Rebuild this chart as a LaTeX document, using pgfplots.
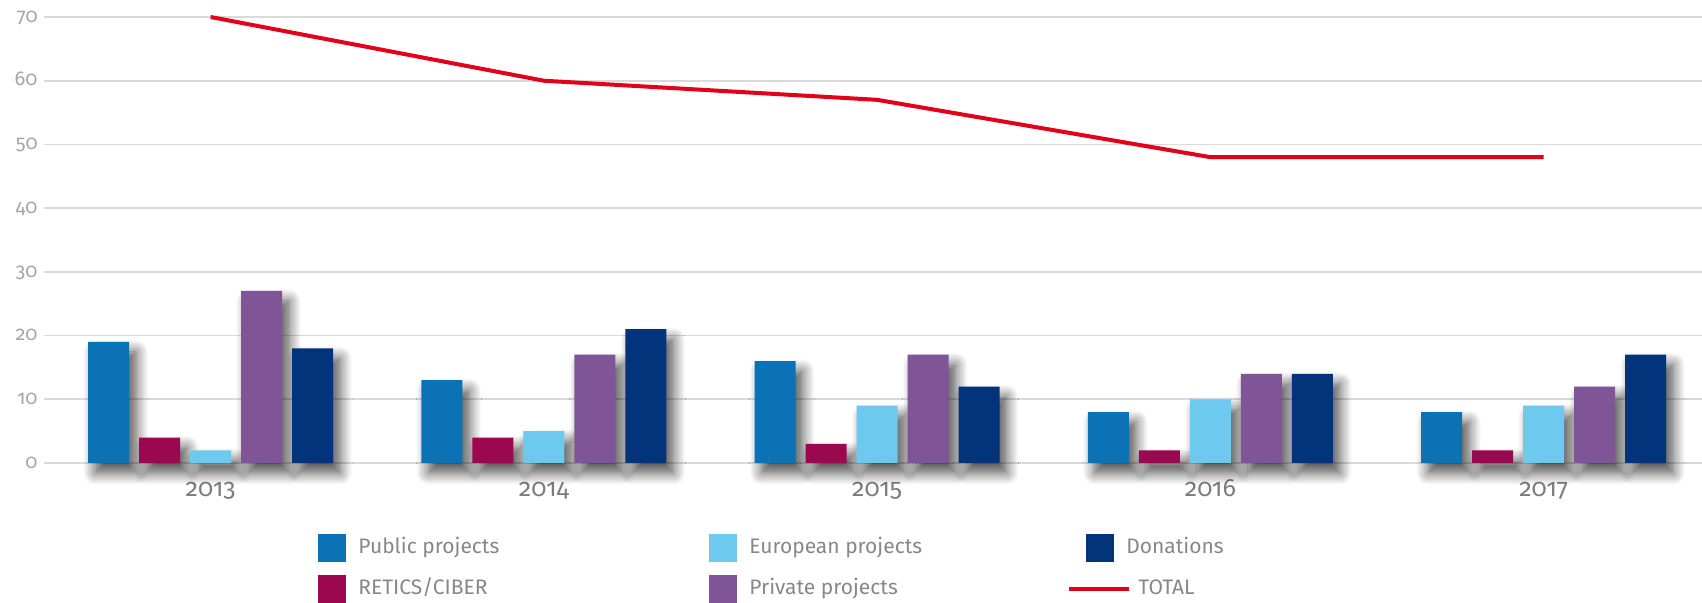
\documentclass[border=0pt]{standalone}
\usepackage{fontspec}
\setmainfont{Fira Sans}[Numbers=OldStyle]
\usepackage{pgfplots}
\pgfplotsset{compat=1.18}
\usetikzlibrary{shadows.blur}
\definecolor{cPub}{RGB}{11,114,181}
\definecolor{cRet}{RGB}{155,8,80}
\definecolor{cEur}{RGB}{110,201,238}
\definecolor{cPri}{RGB}{127,85,151}
\definecolor{cDon}{RGB}{3,51,122}
\definecolor{cTot}{RGB}{226,0,26}
\definecolor{cGrid}{RGB}{218,218,218}
\definecolor{cTick}{RGB}{166,166,166}
\definecolor{cYear}{RGB}{125,125,125}
\definecolor{cLeg}{RGB}{135,135,135}
\makeatletter
\tikzset{nopre/.code={\let\tikz@preactions\pgfutil@empty}}
\makeatother
\pgfplotsset{
  barshadow/.style={blur shadow={shadow xshift=3.5pt, shadow yshift=-5pt, shadow blur radius=6pt, shadow blur steps=10, shadow opacity=70}},
  sq/.style={legend image code/.code={\fill[nopre, #1] (0pt,-7pt) rectangle (14pt,7pt);}}
}
\begin{document}
\begin{tikzpicture}
\begin{axis}[
  scale only axis, width=829pt, height=223pt,
  xmin=-0.5, xmax=4.475, ymin=0, ymax=70,
  axis line style={draw=none},
  xtick={0,1,2,3,4},
  xticklabels={2013,2014,2015,2016,2017},
  ytick={0,10,...,70},
  major tick length=0pt,
  ymajorgrids, grid style={cGrid, line width=0.8pt},
  /pgf/number format/assume math mode=true,
  yticklabel style={font=\fontsize{10}{12}\selectfont, text=cTick, inner sep=0pt, anchor=base east, xshift=-3pt, yshift=-2.6pt},
  xticklabel style={font=\fontsize{12.5}{14}\selectfont, text=cYear, inner sep=0pt, anchor=base, yshift=-16.75pt},
  clip=false,
  bar width=20.5pt,
  legend columns=2, transpose legend,
  legend style={at={(0.16526,-0.1592)}, anchor=north west, draw=none, fill=none, inner sep=0pt,
    row sep=6.5pt, column sep=0pt,
    nodes={inner sep=0pt, text=cLeg, font=\fontsize{10.5}{12}\selectfont, text height=7.5pt, text depth=2.3pt}},
  legend cell align=left,
]
\addplot[ybar, bar shift=-51pt, fill=cPub, draw=none, barshadow, sq=cPub] coordinates {(0,19)(1,13)(2,16)(3,8)(4,8)};
\addlegendentry{\makebox[181.5pt][l]{\hspace*{6pt}Public projects}}
\addplot[ybar, bar shift=-25.5pt, fill=cRet, draw=none, barshadow, sq=cRet] coordinates {(0,4)(1,4)(2,3)(3,2)(4,2)};
\addlegendentry{\makebox[181.5pt][l]{\hspace*{6pt}RETICS/CIBER}}
\addplot[ybar, bar shift=0pt, fill=cEur, draw=none, barshadow, sq=cEur] coordinates {(0,2)(1,5)(2,9)(3,10)(4,9)};
\addlegendentry{\makebox[174.5pt][l]{\hspace*{6pt}European projects}}
\addplot[ybar, bar shift=25.5pt, fill=cPri, draw=none, barshadow, sq=cPri] coordinates {(0,27)(1,17)(2,17)(3,14)(4,12)};
\addlegendentry{\makebox[174.5pt][l]{\hspace*{6pt}Private projects}}
\addplot[ybar, bar shift=51pt, fill=cDon, draw=none, barshadow, sq=cDon] coordinates {(0,18)(1,21)(2,12)(3,14)(4,17)};
\addlegendentry{\hspace*{6pt}Donations}
\addplot[sharp plot, mark=none, cTot, line width=2pt,
  legend image code/.code={\path[draw=none, fill=none] (0pt,-7pt) rectangle (14pt,7pt); \draw[overlay, cTot, line width=2pt] (-8.5pt,0pt) -- (21.5pt,0pt);}]
  coordinates {(0,70)(1,60)(2,57)(3,48)(4,48)};
\addlegendentry{\hspace*{12pt}TOTAL}
\end{axis}
\pgfresetboundingbox
\useasboundingbox (-22pt,-70pt) rectangle (829pt,231.5pt);
\end{tikzpicture}
\end{document}
